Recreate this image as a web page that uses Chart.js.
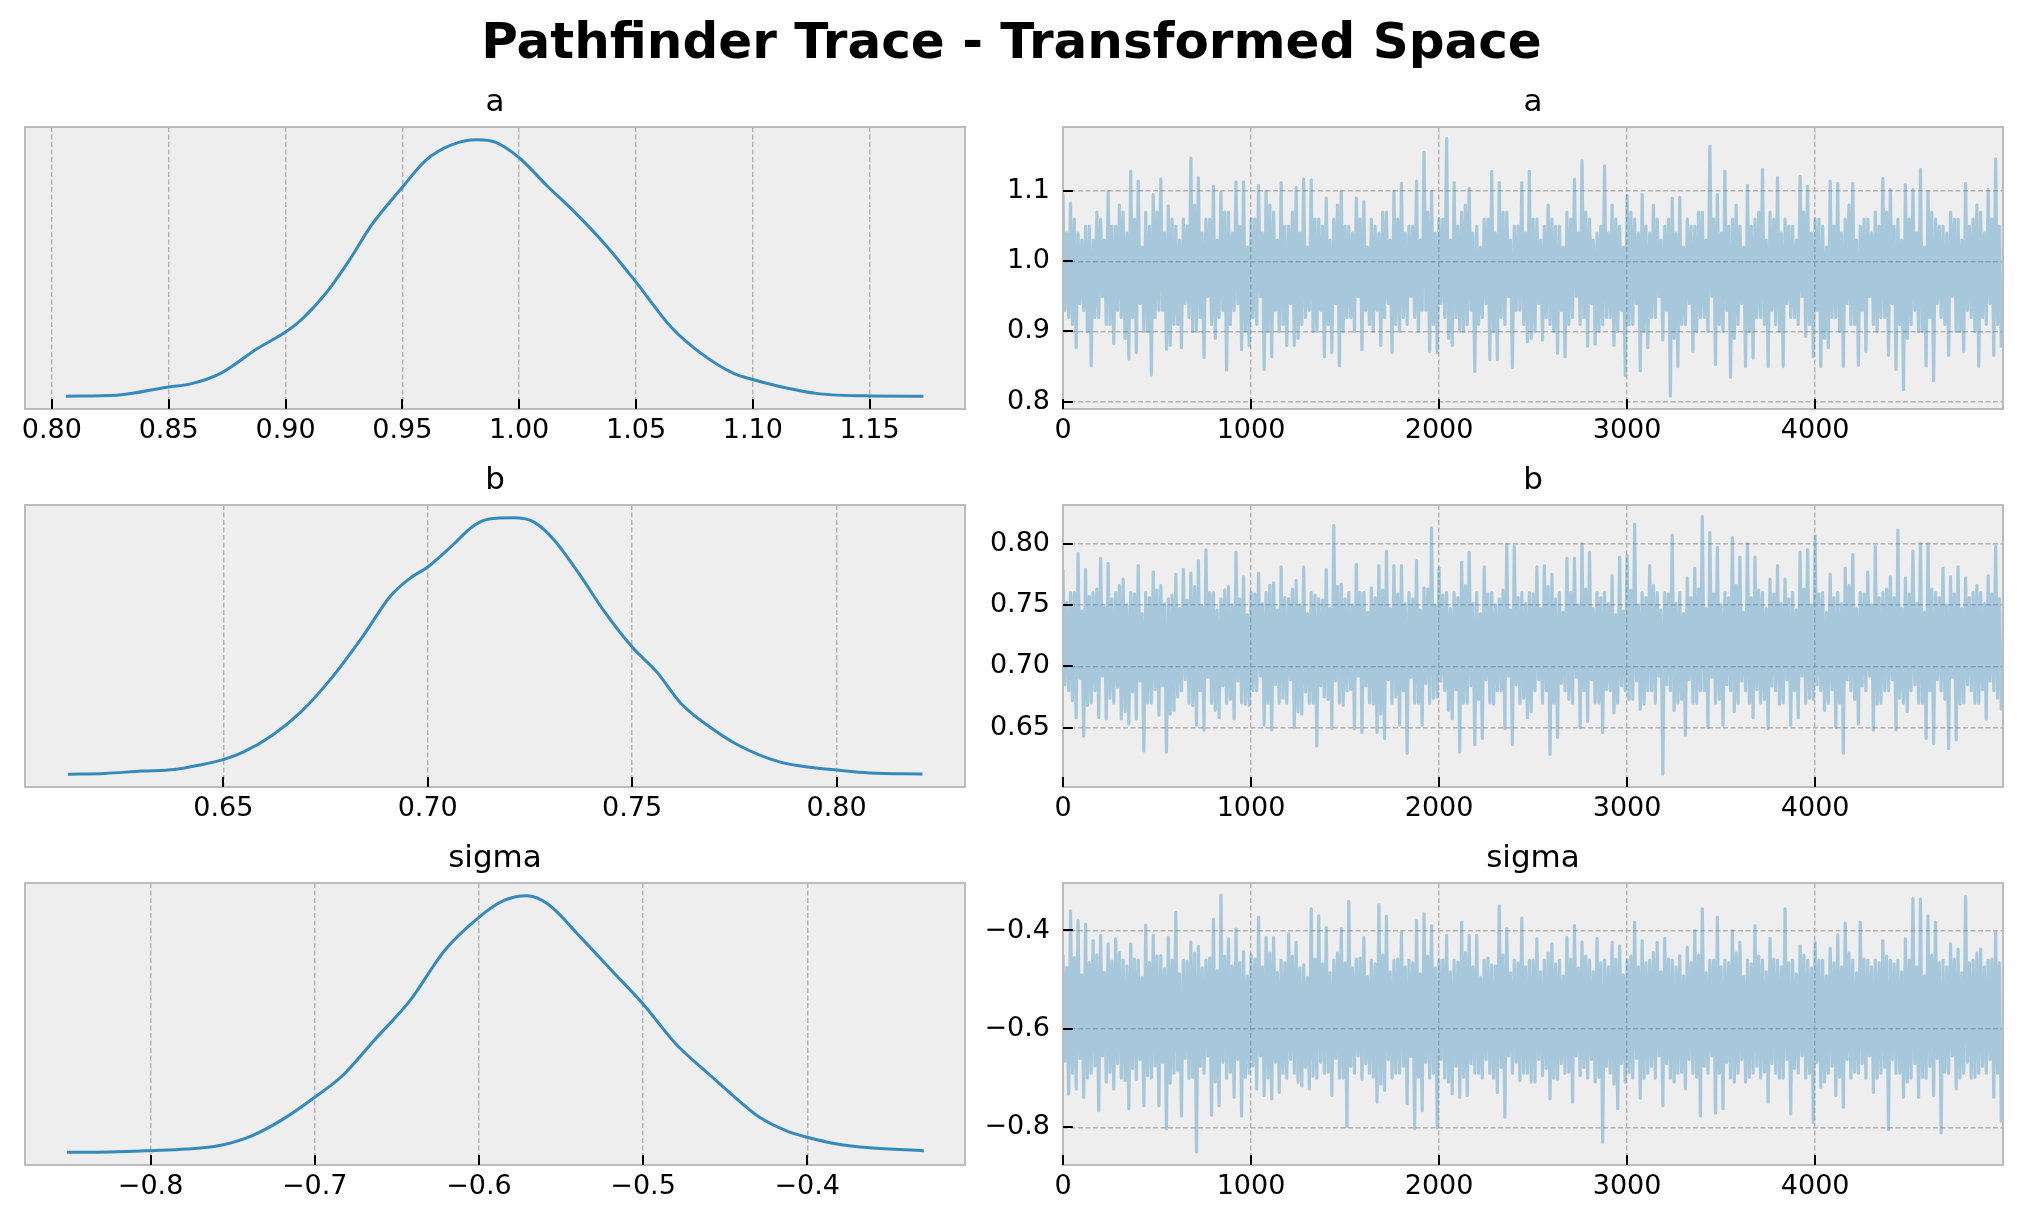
<!DOCTYPE html>
<html>
<head>
<meta charset="utf-8">
<script src="https://cdn.jsdelivr.net/npm/chart.js@4.4.0/dist/chart.umd.min.js"></script>
<style>
  html, body { margin: 0; padding: 0; background: #fff; }
  body { width: 2023px; height: 1223px; overflow: hidden; position: relative; font-family: 'DejaVu Sans', sans-serif; }
  #suptitle { position: absolute; left: 0; top: 16px; width: 2023px; text-align: center; font-weight: bold; font-size: 50px; line-height: 50px; color: #000; }
  canvas { position: absolute; }
</style>
</head>
<body>
<div id="suptitle">Pathfinder Trace - Transformed Space</div>
<canvas id="densA" width="990" height="379" style="left:0;top:80px"></canvas>
<canvas id="traceA" width="1116" height="379" style="left:975px;top:80px"></canvas>
<canvas id="densB" width="990" height="379" style="left:0;top:458px"></canvas>
<canvas id="traceB" width="1116" height="379" style="left:975px;top:458px"></canvas>
<canvas id="densS" width="990" height="379" style="left:0;top:836px"></canvas>
<canvas id="traceS" width="1116" height="379" style="left:975px;top:836px"></canvas>
<script>
// KDE curves (x = parameter value, y = density scaled to peak = 1)
const aX = [0.806, 0.828, 0.850, 0.859, 0.872, 0.888, 0.900, 0.907, 0.918, 0.928, 0.937, 0.950, 0.960, 0.971, 0.982, 0.990, 1.000, 1.012, 1.023, 1.037, 1.050, 1.065, 1.078, 1.092, 1.100, 1.111, 1.128, 1.150, 1.173];
const aY = [0, 0.004, 0.036, 0.047, 0.088, 0.186, 0.25, 0.30, 0.41, 0.54, 0.67, 0.815, 0.92, 0.98, 1.0, 0.99, 0.93, 0.82, 0.725, 0.59, 0.445, 0.27, 0.166, 0.088, 0.065, 0.039, 0.010, 0.001, 0];

const bX = [0.612, 0.621, 0.630, 0.638, 0.644, 0.650, 0.655, 0.662, 0.669, 0.676, 0.684, 0.691, 0.696, 0.700, 0.706, 0.711, 0.715, 0.721, 0.726, 0.731, 0.737, 0.743, 0.750, 0.756, 0.762, 0.769, 0.776, 0.786, 0.794, 0.800, 0.808, 0.821];
const bY = [0, 0.003, 0.012, 0.018, 0.035, 0.057, 0.087, 0.152, 0.243, 0.366, 0.535, 0.697, 0.768, 0.808, 0.892, 0.966, 0.995, 1.0, 0.983, 0.912, 0.782, 0.639, 0.496, 0.399, 0.275, 0.184, 0.113, 0.048, 0.026, 0.016, 0.005, 0.001];

const sX = [-0.851, -0.825, -0.800, -0.778, -0.758, -0.738, -0.719, -0.700, -0.683, -0.664, -0.642, -0.621, -0.600, -0.585, -0.571, -0.558, -0.538, -0.519, -0.500, -0.480, -0.460, -0.444, -0.429, -0.413, -0.400, -0.382, -0.362, -0.329];
const sY = [0, 0.001, 0.006, 0.012, 0.026, 0.065, 0.13, 0.214, 0.299, 0.435, 0.591, 0.786, 0.916, 0.981, 1.0, 0.968, 0.838, 0.708, 0.578, 0.422, 0.305, 0.214, 0.136, 0.084, 0.058, 0.032, 0.017, 0.006];

// traces: draws are 10 apart. "Outer" = the spiky high/low draws read off the
// picture (every 20th draw pair), "inner" = the draws inside the solid band.
const traceStep = 10;
const aOuter = [
  1.095, 0.92, 1.083, 0.877, 1.04, 0.93, 1.05, 0.851, 1.03, 0.92,
  1.06, 0.91, 1.10, 0.883, 1.05, 0.92, 1.07, 0.861, 1.128, 0.87,
  1.114, 0.90, 1.07, 0.838, 1.095, 0.93, 1.117, 0.875, 1.079, 0.91,
  1.05, 0.877, 1.06, 0.92, 1.147, 0.90, 1.119, 0.863, 1.06, 0.91,
  1.107, 0.92, 1.098, 0.845, 1.07, 0.93, 1.113, 0.874, 1.113, 0.88,
  1.06, 0.91, 1.108, 0.846, 1.10, 0.864, 1.07, 0.90, 1.112, 0.88,
  1.05, 0.88, 1.105, 0.91, 1.117, 0.93, 1.116, 0.90, 1.06, 0.864,
  1.09, 0.87, 1.06, 0.851, 1.10, 0.92, 1.05, 0.90, 1.09, 0.874,
  1.085, 0.91, 1.06, 0.93, 1.04, 0.92, 1.07, 0.87, 1.10, 0.90,
  1.111, 0.91, 1.05, 0.92, 1.114, 0.93, 1.155, 0.872, 1.10, 0.87,
  1.06, 0.92, 1.175, 0.88, 1.112, 0.90, 1.07, 0.91, 1.104, 0.843,
  1.05, 0.92, 1.06, 0.86, 1.128, 0.86, 1.112, 0.91, 1.07, 0.849,
  1.05, 0.93, 1.112, 0.885, 1.128, 0.90, 1.06, 0.888, 1.05, 0.91,
  1.06, 0.869, 1.05, 0.864, 1.07, 0.92, 1.117, 0.91, 1.143, 0.879,
  1.06, 0.882, 1.04, 0.91, 1.136, 0.92, 1.08, 0.90, 1.05, 0.837,
  1.094, 0.91, 1.06, 0.844, 1.095, 0.877, 1.04, 0.92, 1.06, 0.888,
  1.05, 0.808, 1.09, 0.85, 1.091, 0.91, 1.06, 0.872, 1.05, 0.92,
  1.07, 0.90, 1.164, 0.853, 1.095, 0.90, 1.128, 0.835, 1.06, 0.91,
  1.05, 0.85, 1.108, 0.862, 1.06, 0.92, 1.131, 0.85, 1.07, 0.91,
  1.119, 0.85, 1.06, 0.92, 1.05, 0.91, 1.121, 0.893, 1.107, 0.864,
  1.06, 0.85, 1.05, 0.877, 1.114, 0.92, 1.111, 0.85, 1.06, 0.91,
  1.111, 0.852, 1.05, 0.872, 1.06, 0.91, 1.07, 0.92, 1.118, 0.866,
  1.102, 0.846, 1.06, 0.817, 1.109, 0.91, 1.102, 0.90, 1.131, 0.851,
  1.10, 0.830, 1.06, 0.92, 1.05, 0.866, 1.07, 0.90, 1.06, 0.872,
  1.111, 0.92, 1.06, 0.85, 1.07, 0.91, 1.102, 0.866, 1.146, 0.877
];
const aInner = [
  0.93, 1.04, 0.91, 1.06, 0.94, 1.03, 0.90, 1.05, 0.92, 1.07,
  0.95, 1.03, 0.91, 1.05, 0.93, 1.08, 0.89, 1.04, 0.92, 1.06,
  0.94, 1.02, 0.90, 1.05, 0.92, 1.07, 0.93, 1.04, 0.88, 1.06,
  0.91, 1.03, 0.94, 1.05, 0.90, 1.08, 0.92, 1.04, 0.95, 1.06,
  0.89, 1.03, 0.93, 1.07, 0.91, 1.04, 0.94, 1.05, 0.90, 1.02,
  0.92, 1.06, 0.95, 1.04, 0.90, 1.08, 0.93, 1.03, 0.91, 1.05,
  0.94, 1.07, 0.89, 1.04, 0.92, 1.02, 0.90, 1.06, 0.93, 1.05,
  0.91, 1.03, 0.94, 1.08, 0.90, 1.05, 0.92, 1.04, 0.95, 1.06,
  0.93, 1.02, 0.90, 1.05, 0.88, 1.07, 0.94, 1.03, 0.91, 1.06,
  0.92, 1.04, 0.95, 1.05, 0.90, 1.03, 0.93, 1.07, 0.91, 1.04,
  0.94, 1.06, 0.89, 1.03, 0.92, 1.05, 0.90, 1.08, 0.93, 1.04,
  0.91, 1.02, 0.94, 1.06, 0.90, 1.04, 0.92, 1.07, 0.95, 1.03,
  0.93, 1.05, 0.91, 1.04, 0.89, 1.06, 0.94, 1.03, 0.92, 1.08,
  0.90, 1.05, 0.93, 1.02, 0.91, 1.06, 0.95, 1.04, 0.92, 1.07,
  0.94, 1.03, 0.90, 1.05, 0.92, 1.04, 0.88, 1.06, 0.93, 1.02,
  0.91, 1.07, 0.94, 1.04, 0.90, 1.05, 0.92, 1.08, 0.95, 1.03,
  0.93, 1.06, 0.89, 1.04, 0.91, 1.02, 0.94, 1.05, 0.90, 1.07,
  0.92, 1.03, 0.95, 1.06, 0.91, 1.04, 0.93, 1.05, 0.89, 1.08,
  0.94, 1.02, 0.90, 1.05, 0.92, 1.07, 0.91, 1.03, 0.93, 1.06,
  0.90, 1.04, 0.94, 1.05, 0.92, 1.03, 0.95, 1.07, 0.91, 1.04,
  0.93, 1.06, 0.89, 1.02, 0.92, 1.05, 0.90, 1.04, 0.94, 1.08,
  0.91, 1.03, 0.93, 1.06, 0.95, 1.04, 0.90, 1.05, 0.92, 1.07,
  0.94, 1.05, 0.91, 1.03, 0.89, 1.06, 0.93, 1.04, 0.90, 1.02,
  0.92, 1.07, 0.94, 1.05, 0.91, 1.04, 0.95, 1.06, 0.90, 1.03,
  0.93, 1.05, 0.90, 1.08, 0.92, 1.04, 0.94, 1.06, 0.91, 1.05
];
const bOuter = [
  0.779, 0.68, 0.76, 0.658, 0.792, 0.643, 0.779, 0.67, 0.76, 0.658,
  0.788, 0.657, 0.784, 0.67, 0.76, 0.657, 0.771, 0.653, 0.76, 0.657,
  0.782, 0.631, 0.76, 0.67, 0.777, 0.66, 0.766, 0.630, 0.755, 0.664,
  0.775, 0.68, 0.779, 0.67, 0.776, 0.652, 0.786, 0.648, 0.795, 0.67,
  0.76, 0.658, 0.755, 0.67, 0.765, 0.657, 0.793, 0.67, 0.773, 0.668,
  0.76, 0.68, 0.776, 0.652, 0.76, 0.648, 0.768, 0.67, 0.781, 0.67,
  0.755, 0.650, 0.770, 0.661, 0.781, 0.67, 0.76, 0.635, 0.755, 0.675,
  0.779, 0.649, 0.815, 0.67, 0.767, 0.68, 0.76, 0.649, 0.783, 0.646,
  0.76, 0.67, 0.764, 0.646, 0.782, 0.641, 0.794, 0.67, 0.782, 0.652,
  0.782, 0.629, 0.76, 0.67, 0.786, 0.652, 0.764, 0.67, 0.813, 0.675,
  0.780, 0.68, 0.76, 0.657, 0.76, 0.630, 0.785, 0.67, 0.793, 0.636,
  0.76, 0.641, 0.781, 0.67, 0.76, 0.68, 0.755, 0.649, 0.799, 0.636,
  0.798, 0.67, 0.76, 0.658, 0.76, 0.68, 0.781, 0.67, 0.782, 0.628,
  0.775, 0.642, 0.76, 0.68, 0.788, 0.67, 0.788, 0.650, 0.800, 0.655,
  0.793, 0.67, 0.76, 0.646, 0.76, 0.68, 0.774, 0.67, 0.789, 0.68,
  0.790, 0.673, 0.816, 0.665, 0.76, 0.68, 0.782, 0.67, 0.76, 0.612,
  0.76, 0.68, 0.807, 0.67, 0.76, 0.644, 0.772, 0.67, 0.780, 0.68,
  0.822, 0.650, 0.809, 0.67, 0.797, 0.652, 0.76, 0.68, 0.805, 0.67,
  0.789, 0.68, 0.800, 0.658, 0.789, 0.67, 0.76, 0.649, 0.771, 0.68,
  0.782, 0.67, 0.771, 0.652, 0.76, 0.658, 0.793, 0.67, 0.795, 0.673,
  0.806, 0.68, 0.76, 0.67, 0.775, 0.650, 0.76, 0.629, 0.780, 0.68,
  0.791, 0.653, 0.76, 0.68, 0.777, 0.648, 0.798, 0.67, 0.76, 0.68,
  0.773, 0.648, 0.811, 0.67, 0.772, 0.68, 0.794, 0.67, 0.800, 0.641,
  0.800, 0.637, 0.76, 0.68, 0.780, 0.633, 0.773, 0.640, 0.781, 0.67,
  0.772, 0.68, 0.76, 0.67, 0.76, 0.657, 0.774, 0.68, 0.798, 0.664
];
const bInner = [
  0.685, 0.752, 0.672, 0.760, 0.690, 0.745, 0.668, 0.757, 0.680, 0.763,
  0.692, 0.748, 0.674, 0.755, 0.683, 0.766, 0.663, 0.750, 0.679, 0.759,
  0.688, 0.743, 0.670, 0.756, 0.681, 0.762, 0.684, 0.751, 0.661, 0.758,
  0.675, 0.747, 0.689, 0.754, 0.668, 0.765, 0.680, 0.749, 0.691, 0.760,
  0.664, 0.746, 0.684, 0.762, 0.673, 0.750, 0.688, 0.755, 0.669, 0.742,
  0.680, 0.759, 0.692, 0.751, 0.670, 0.766, 0.685, 0.746, 0.674, 0.756,
  0.689, 0.763, 0.663, 0.750, 0.679, 0.743, 0.670, 0.758, 0.684, 0.754,
  0.673, 0.747, 0.688, 0.765, 0.668, 0.755, 0.681, 0.750, 0.692, 0.760,
  0.684, 0.744, 0.669, 0.756, 0.661, 0.762, 0.689, 0.747, 0.675, 0.759,
  0.680, 0.751, 0.691, 0.755, 0.670, 0.746, 0.686, 0.763, 0.674, 0.750,
  0.688, 0.758, 0.664, 0.747, 0.681, 0.756, 0.670, 0.766, 0.684, 0.751,
  0.673, 0.743, 0.689, 0.759, 0.669, 0.750, 0.680, 0.762, 0.692, 0.746,
  0.685, 0.756, 0.674, 0.751, 0.663, 0.759, 0.689, 0.747, 0.680, 0.765,
  0.670, 0.755, 0.686, 0.744, 0.673, 0.760, 0.691, 0.750, 0.680, 0.763,
  0.689, 0.747, 0.670, 0.756, 0.681, 0.751, 0.662, 0.742, 0.684, 0.745,
  0.673, 0.762, 0.688, 0.750, 0.669, 0.756, 0.680, 0.766, 0.692, 0.746,
  0.685, 0.759, 0.664, 0.751, 0.673, 0.743, 0.689, 0.756, 0.670, 0.763,
  0.680, 0.747, 0.691, 0.759, 0.673, 0.750, 0.685, 0.756, 0.663, 0.766,
  0.688, 0.744, 0.670, 0.756, 0.681, 0.762, 0.673, 0.747, 0.684, 0.759,
  0.669, 0.751, 0.689, 0.755, 0.680, 0.746, 0.692, 0.763, 0.674, 0.750,
  0.685, 0.759, 0.664, 0.744, 0.681, 0.756, 0.670, 0.751, 0.689, 0.766,
  0.673, 0.747, 0.684, 0.759, 0.692, 0.750, 0.669, 0.756, 0.680, 0.763,
  0.689, 0.756, 0.674, 0.747, 0.663, 0.759, 0.685, 0.751, 0.670, 0.744,
  0.680, 0.763, 0.689, 0.756, 0.673, 0.750, 0.691, 0.759, 0.669, 0.747,
  0.685, 0.756, 0.670, 0.766, 0.681, 0.751, 0.688, 0.759, 0.674, 0.755
];
const sOuter = [
  -0.45, -0.732, -0.360, -0.722, -0.380, -0.739, -0.387, -0.69, -0.421, -0.766,
  -0.410, -0.708, -0.427, -0.722, -0.417, -0.70, -0.46, -0.762, -0.427, -0.702,
  -0.46, -0.756, -0.389, -0.70, -0.410, -0.756, -0.451, -0.803, -0.414, -0.69,
  -0.363, -0.777, -0.46, -0.70, -0.423, -0.850, -0.432, -0.69, -0.46, -0.775,
  -0.377, -0.756, -0.328, -0.70, -0.417, -0.739, -0.397, -0.777, -0.443, -0.69,
  -0.45, -0.722, -0.373, -0.735, -0.414, -0.742, -0.414, -0.729, -0.46, -0.70,
  -0.407, -0.69, -0.424, -0.716, -0.47, -0.722, -0.356, -0.70, -0.370, -0.69,
  -0.394, -0.735, -0.46, -0.70, -0.396, -0.798, -0.341, -0.69, -0.458, -0.702,
  -0.414, -0.69, -0.46, -0.749, -0.348, -0.725, -0.371, -0.70, -0.46, -0.69,
  -0.404, -0.752, -0.46, -0.803, -0.380, -0.766, -0.366, -0.70, -0.390, -0.801,
  -0.46, -0.70, -0.410, -0.732, -0.46, -0.739, -0.383, -0.735, -0.410, -0.69,
  -0.410, -0.70, -0.46, -0.69, -0.47, -0.729, -0.350, -0.779, -0.396, -0.69,
  -0.46, -0.705, -0.375, -0.69, -0.46, -0.708, -0.417, -0.695, -0.46, -0.742,
  -0.427, -0.702, -0.46, -0.69, -0.414, -0.749, -0.390, -0.695, -0.423, -0.70,
  -0.46, -0.708, -0.416, -0.830, -0.46, -0.69, -0.424, -0.762, -0.431, -0.708,
  -0.46, -0.70, -0.383, -0.741, -0.421, -0.69, -0.46, -0.70, -0.424, -0.756,
  -0.416, -0.70, -0.46, -0.69, -0.451, -0.722, -0.434, -0.69, -0.400, -0.777,
  -0.356, -0.69, -0.46, -0.771, -0.373, -0.762, -0.46, -0.70, -0.400, -0.69,
  -0.424, -0.708, -0.46, -0.69, -0.390, -0.70, -0.46, -0.749, -0.416, -0.69,
  -0.46, -0.70, -0.356, -0.773, -0.46, -0.69, -0.431, -0.70, -0.46, -0.790,
  -0.424, -0.718, -0.46, -0.69, -0.436, -0.735, -0.409, -0.759, -0.385, -0.70,
  -0.46, -0.69, -0.383, -0.70, -0.46, -0.729, -0.46, -0.69, -0.421, -0.804,
  -0.46, -0.69, -0.46, -0.739, -0.417, -0.70, -0.335, -0.739, -0.336, -0.70,
  -0.370, -0.735, -0.383, -0.811, -0.46, -0.69, -0.427, -0.722, -0.438, -0.69,
  -0.331, -0.70, -0.46, -0.69, -0.438, -0.69, -0.46, -0.739, -0.404, -0.790
];
const sInner = [
  -0.665, -0.475, -0.690, -0.455, -0.660, -0.490, -0.700, -0.465, -0.675, -0.450,
  -0.655, -0.485, -0.688, -0.462, -0.670, -0.445, -0.705, -0.472, -0.680, -0.458,
  -0.662, -0.495, -0.695, -0.465, -0.675, -0.452, -0.668, -0.478, -0.710, -0.460,
  -0.685, -0.488, -0.660, -0.462, -0.698, -0.446, -0.676, -0.476, -0.655, -0.456,
  -0.708, -0.482, -0.668, -0.452, -0.688, -0.472, -0.662, -0.465, -0.698, -0.492,
  -0.675, -0.458, -0.655, -0.474, -0.700, -0.446, -0.668, -0.485, -0.690, -0.466,
  -0.662, -0.452, -0.708, -0.476, -0.678, -0.495, -0.696, -0.458, -0.668, -0.468,
  -0.688, -0.486, -0.660, -0.446, -0.700, -0.466, -0.676, -0.476, -0.655, -0.456,
  -0.670, -0.494, -0.698, -0.468, -0.712, -0.450, -0.662, -0.484, -0.690, -0.458,
  -0.676, -0.474, -0.656, -0.466, -0.698, -0.488, -0.668, -0.452, -0.690, -0.476,
  -0.662, -0.460, -0.708, -0.484, -0.676, -0.464, -0.698, -0.445, -0.670, -0.474,
  -0.690, -0.495, -0.662, -0.456, -0.700, -0.472, -0.678, -0.450, -0.655, -0.486,
  -0.668, -0.466, -0.690, -0.474, -0.708, -0.460, -0.662, -0.484, -0.680, -0.446,
  -0.700, -0.468, -0.670, -0.492, -0.688, -0.458, -0.655, -0.476, -0.678, -0.452,
  -0.662, -0.484, -0.698, -0.466, -0.676, -0.474, -0.712, -0.458, -0.670, -0.490,
  -0.688, -0.452, -0.660, -0.474, -0.700, -0.466, -0.676, -0.445, -0.655, -0.484,
  -0.670, -0.458, -0.708, -0.474, -0.688, -0.492, -0.662, -0.466, -0.698, -0.450,
  -0.676, -0.486, -0.655, -0.460, -0.690, -0.474, -0.668, -0.466, -0.708, -0.446,
  -0.662, -0.494, -0.698, -0.468, -0.676, -0.452, -0.688, -0.484, -0.670, -0.458,
  -0.700, -0.474, -0.662, -0.466, -0.680, -0.488, -0.655, -0.450, -0.690, -0.476,
  -0.668, -0.460, -0.708, -0.492, -0.676, -0.466, -0.698, -0.474, -0.662, -0.446,
  -0.688, -0.486, -0.670, -0.458, -0.655, -0.474, -0.700, -0.466, -0.678, -0.452,
  -0.662, -0.468, -0.690, -0.484, -0.708, -0.460, -0.670, -0.474, -0.698, -0.492,
  -0.676, -0.450, -0.660, -0.466, -0.688, -0.474, -0.655, -0.458, -0.700, -0.486,
  -0.668, -0.466, -0.698, -0.446, -0.676, -0.474, -0.662, -0.458, -0.690, -0.466
];

// tick values
const aDensTicks = [0.80, 0.85, 0.90, 0.95, 1.00, 1.05, 1.10, 1.15];
const bDensTicks = [0.65, 0.70, 0.75, 0.80];
const sDensTicks = [-0.8, -0.7, -0.6, -0.5, -0.4];
const iterTicks = [0, 1000, 2000, 3000, 4000];
const aTraceTicks = [0.8, 0.9, 1.0, 1.1];
const bTraceTicks = [0.65, 0.70, 0.75, 0.80];
const sTraceTicks = [-0.8, -0.6, -0.4];

Chart.defaults.font.family = "'DejaVu Sans', sans-serif";
Chart.defaults.color = "#000";

const fmt = (v, dec) => v.toFixed(dec).replace("-", "\u2212");

// put the two draw lists back in draw order: outer, inner, inner, outer, ...
function drawOrder(outer, inner) {
  const out = [];
  for (let j = 0; j < outer.length / 2; j++) {
    out.push(outer[2 * j], inner[2 * j], inner[2 * j + 1], outer[2 * j + 1]);
  }
  return out;
}

// grey panel, frame and inward tick marks
const framePlugin = {
  id: "frame",
  beforeDraw(chart) {
    const { ctx, chartArea: a } = chart;
    ctx.save();
    ctx.fillStyle = "#eeeeee";
    ctx.fillRect(a.left, a.top, a.right - a.left, a.bottom - a.top);
    ctx.restore();
  },
  afterDraw(chart) {
    const { ctx, chartArea: a } = chart;
    ctx.save();
    ctx.strokeStyle = "#bcbcbc";
    ctx.lineWidth = 2;
    ctx.strokeRect(a.left, a.top, a.right - a.left, a.bottom - a.top);
    ctx.strokeStyle = "#000";
    ctx.lineWidth = 2;
    ctx.beginPath();
    const sx = chart.scales.x;
    sx.ticks.forEach((t) => {
      const p = Math.round(sx.getPixelForValue(t.value));
      ctx.moveTo(p, a.bottom);
      ctx.lineTo(p, a.bottom - 10);
    });
    const sy = chart.scales.y;
    if (sy.options.display) {
      sy.ticks.forEach((t) => {
        const p = Math.round(sy.getPixelForValue(t.value));
        ctx.moveTo(a.left, p);
        ctx.lineTo(a.left + 10, p);
      });
    }
    ctx.stroke();
    ctx.restore();
  },
};

function valueAxis(min, max, ticks, dec, vertical) {
  return {
    type: "linear",
    min: min,
    max: max,
    bounds: "data",
    afterBuildTicks: (s) => { s.ticks = ticks.map((v) => ({ value: v })); },
    afterFit: (s) => { if (vertical) s.width = 88; else s.height = 50; },
    grid: { color: "#b2b2b2", lineWidth: 1.4, drawTicks: false },
    border: { display: false, dash: [5, 2.5] },
    ticks: {
      color: "#000",
      font: { size: 27 },
      padding: vertical ? 13 : 6,
      maxRotation: 0,
      autoSkip: false,
      callback: (v) => fmt(v, dec),
    },
  };
}

function titleOpts(text) {
  return {
    display: true,
    text: text,
    color: "#000",
    font: { size: 31, weight: "normal" },
    padding: { top: 4, bottom: 5.8 },
  };
}

function densityChart(id, xs, ys, xmin, xmax, ticks, dec, title) {
  new Chart(document.getElementById(id), {
    type: "line",
    data: {
      datasets: [{
        data: xs.map((x, i) => ({ x: x, y: ys[i] })),
        borderColor: "#348abd",
        borderWidth: 3,
        pointRadius: 0,
        cubicInterpolationMode: "monotone",
        fill: false,
      }],
    },
    options: {
      responsive: false,
      animation: false,
      devicePixelRatio: 1,
      events: [],
      layout: { padding: { left: 25, right: 25, top: 0, bottom: 0 } },
      plugins: { legend: { display: false }, tooltip: { enabled: false }, title: titleOpts(title) },
      scales: {
        x: valueAxis(xmin, xmax, ticks, dec, false),
        y: { type: "linear", display: false, min: -0.05, max: 1.05 },
      },
    },
    plugins: [framePlugin],
  });
}

function traceChart(id, vals, ymin, ymax, ticks, dec, title) {
  new Chart(document.getElementById(id), {
    type: "line",
    data: {
      datasets: [{
        data: vals.map((v, i) => ({ x: i * traceStep, y: v })),
        borderColor: "rgba(52, 138, 189, 0.38)",
        borderWidth: 3.2,
        borderJoinStyle: "round",
        pointRadius: 0,
        tension: 0,
        fill: false,
      }],
    },
    options: {
      responsive: false,
      animation: false,
      devicePixelRatio: 1,
      events: [],
      layout: { padding: 0 },
      plugins: { legend: { display: false }, tooltip: { enabled: false }, title: titleOpts(title) },
      scales: {
        x: valueAxis(0, 4999, iterTicks, 0, false),
        y: valueAxis(ymin, ymax, ticks, dec, true),
        // empty right axis so the title sits over the panel centre
        y2: {
          type: "linear", position: "right", min: 0, max: 1,
          grid: { display: false }, border: { display: false },
          ticks: { display: false },
          afterFit: (s) => { s.width = 88; },
        },
      },
    },
    plugins: [framePlugin],
  });
}

densityChart("densA", aX, aY, 0.7885, 1.1908, aDensTicks, 2, "a");
densityChart("densB", bX, bY, 0.6015, 0.8314, bDensTicks, 2, "b");
densityChart("densS", sX, sY, -0.8765, -0.3039, sDensTicks, 1, "sigma");
traceChart("traceA", drawOrder(aOuter, aInner), 0.7896, 1.1912, aTraceTicks, 1, "a");
traceChart("traceB", drawOrder(bOuter, bInner), 0.6015, 0.8315, bTraceTicks, 2, "b");
traceChart("traceS", drawOrder(sOuter, sInner), -0.8765, -0.3035, sTraceTicks, 1, "sigma");
</script>
</body>
</html>
